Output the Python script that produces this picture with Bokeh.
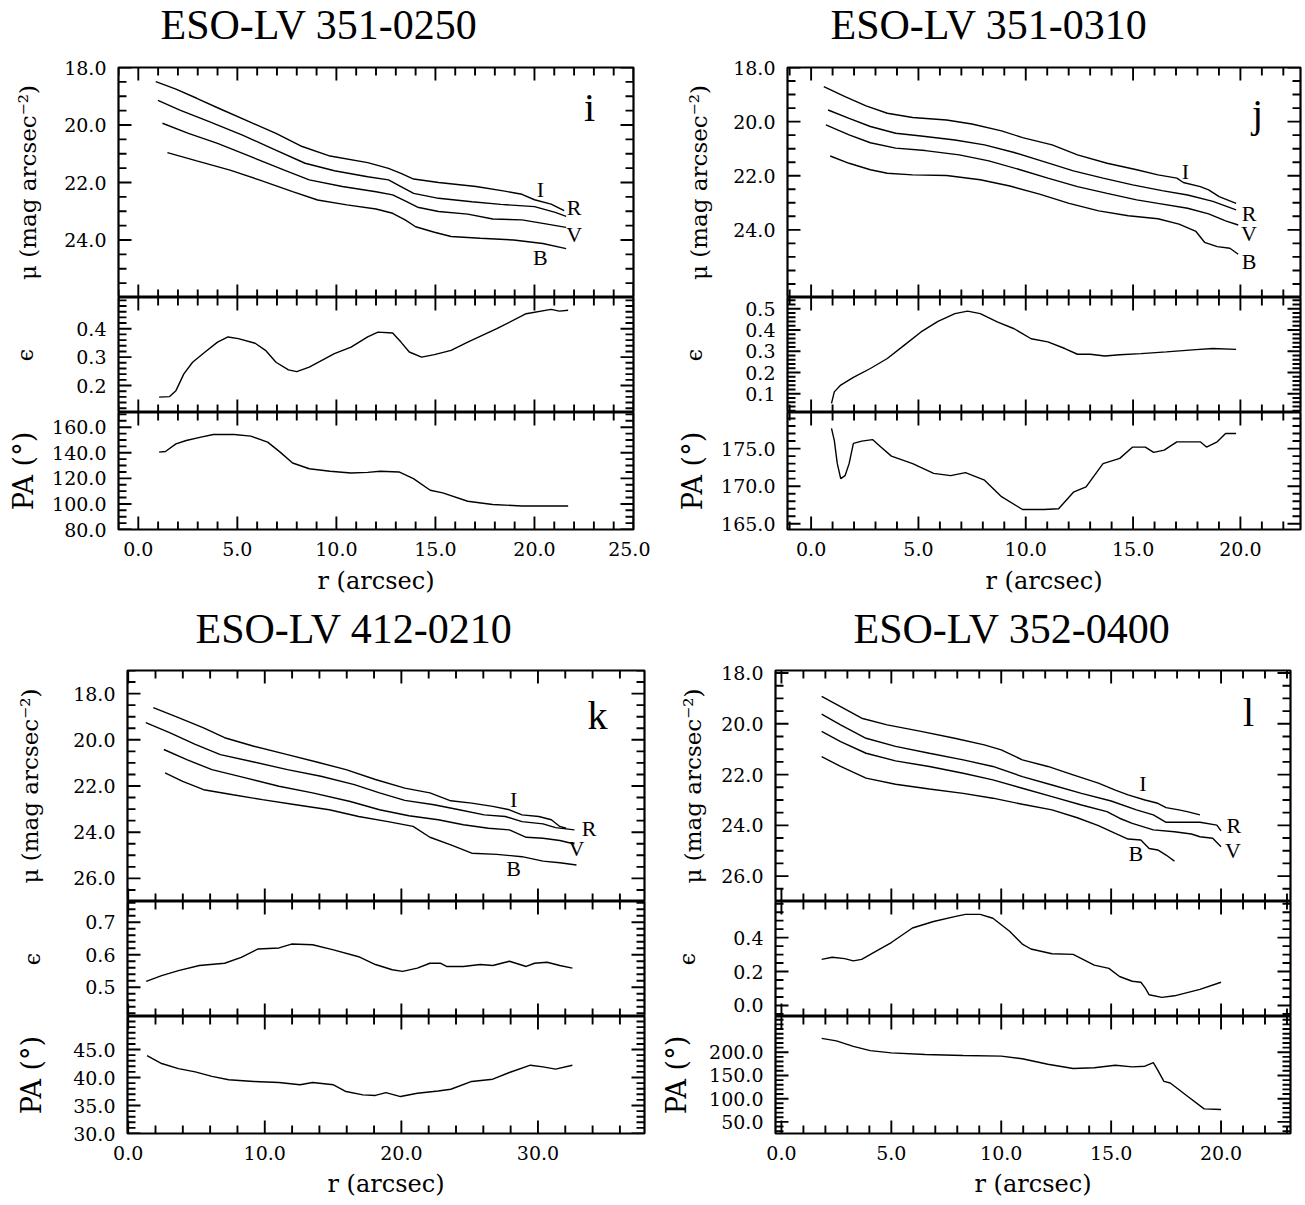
from bokeh.plotting import figure
from bokeh.models import Range1d, LinearAxis, FixedTicker, PrintfTickFormatter
from bokeh.layouts import column, row
from bokeh.embed import file_html
from bokeh.resources import INLINE
from bokeh.core.properties import value

# ---------------- DATA ----------------
BANDS = ["I", "R", "V", "B"]

# Panel i : ESO-LV 351-0250
i_I_r = [0.88, 1.9, 2.95, 4.0, 5.68, 6.95, 8.2, 9.68, 11.58, 12.63, 13.26, 13.9, 15.16, 17.05, 18.5, 19.37, 20.0, 20.84, 21.5]
i_I_mu = [18.49, 18.75, 19.07, 19.4, 19.91, 20.29, 20.73, 21.08, 21.31, 21.51, 21.68, 21.88, 22.0, 22.14, 22.3, 22.41, 22.6, 22.75, 22.98]
i_R_r = [0.99, 2.1, 3.58, 5.26, 6.74, 8.42, 9.9, 11.58, 12.63, 13.26, 13.9, 15.16, 16.84, 18.3, 20.0, 21.05, 21.6]
i_R_mu = [19.14, 19.48, 19.88, 20.35, 20.81, 21.33, 21.59, 21.8, 21.91, 22.14, 22.38, 22.55, 22.67, 22.76, 22.84, 23.04, 23.18]
i_V_r = [1.22, 2.53, 4.0, 5.68, 7.37, 8.63, 10.3, 12.0, 12.84, 13.47, 14.1, 15.16, 16.63, 17.9, 19.37, 20.42, 21.6]
i_V_mu = [19.94, 20.29, 20.64, 21.1, 21.57, 21.91, 22.14, 22.32, 22.43, 22.64, 22.86, 23.01, 23.1, 23.27, 23.3, 23.42, 23.56]
i_B_r = [1.47, 2.95, 4.63, 6.1, 7.79, 9.05, 10.53, 12.0, 12.84, 13.47, 14.0, 14.95, 15.79, 17.26, 18.95, 20.42, 21.6]
i_B_mu = [20.96, 21.25, 21.57, 21.91, 22.32, 22.61, 22.78, 22.92, 23.07, 23.3, 23.54, 23.73, 23.88, 23.94, 24.0, 24.12, 24.3]
i_eps_r = [1.05, 1.58, 1.9, 2.3, 2.74, 3.37, 4.0, 4.53, 5.05, 5.9, 6.42, 6.95, 7.58, 8.0, 8.63, 9.9, 10.74, 11.58, 12.1, 12.84, 13.26, 13.68, 14.3, 14.95, 15.79, 16.63, 18.1, 19.58, 20.84, 21.26, 21.7]
i_eps = [0.159, 0.161, 0.182, 0.241, 0.282, 0.318, 0.353, 0.371, 0.365, 0.349, 0.324, 0.282, 0.255, 0.249, 0.265, 0.312, 0.335, 0.371, 0.388, 0.385, 0.353, 0.318, 0.3, 0.309, 0.324, 0.353, 0.4, 0.453, 0.468, 0.462, 0.465]
i_pa_r = [1.05, 1.37, 1.9, 2.42, 3.16, 3.79, 4.84, 5.68, 6.53, 7.16, 7.79, 8.63, 9.68, 10.74, 11.58, 12.21, 13.16, 13.89, 14.74, 15.37, 16.63, 17.89, 19.37, 21.7]
i_pa = [140.5, 141.0, 147.0, 149.6, 152.2, 154.3, 154.3, 153.0, 148.3, 140.5, 132.0, 127.5, 125.5, 124.2, 124.7, 125.5, 125.0, 119.8, 110.7, 108.6, 102.1, 99.5, 98.4, 98.4]

# Panel j : ESO-LV 351-0310
j_I_r = [0.59, 1.58, 2.56, 3.55, 4.73, 6.31, 7.49, 8.87, 9.85, 11.23, 12.41, 13.79, 15.17, 16.16, 17.04, 17.34, 18.13, 18.52, 19.01, 19.8]
j_I_mu = [18.71, 19.08, 19.42, 19.69, 19.85, 19.94, 20.09, 20.34, 20.59, 20.86, 21.23, 21.54, 21.78, 21.97, 22.09, 22.25, 22.4, 22.52, 22.77, 23.02]
j_R_r = [0.79, 1.77, 2.76, 3.94, 5.12, 6.7, 8.08, 9.46, 10.84, 12.22, 13.6, 14.98, 16.35, 17.54, 18.72, 19.8]
j_R_mu = [19.57, 19.88, 20.18, 20.43, 20.53, 20.68, 20.86, 21.14, 21.48, 21.82, 22.09, 22.34, 22.55, 22.71, 22.95, 23.26]
j_V_r = [0.69, 1.77, 2.76, 3.94, 5.32, 6.9, 8.28, 9.66, 11.03, 12.41, 13.79, 15.17, 16.16, 17.54, 18.52, 19.31, 19.9]
j_V_mu = [20.12, 20.49, 20.78, 20.98, 21.07, 21.23, 21.45, 21.76, 22.09, 22.4, 22.65, 22.89, 23.02, 23.2, 23.41, 23.67, 23.82]
j_B_r = [0.89, 1.77, 2.76, 3.55, 4.73, 6.31, 7.88, 9.26, 10.64, 12.02, 13.4, 14.78, 16.16, 17.14, 17.93, 18.33, 18.92, 19.51, 19.9]
j_B_mu = [21.27, 21.54, 21.78, 21.91, 21.97, 21.99, 22.15, 22.38, 22.68, 23.02, 23.3, 23.48, 23.59, 23.79, 24.06, 24.46, 24.62, 24.68, 24.9]
j_eps_r = [0.95, 1.08, 1.38, 1.97, 2.76, 3.55, 4.33, 5.12, 5.91, 6.7, 7.29, 7.88, 8.67, 9.46, 10.25, 11.03, 11.82, 12.41, 13.0, 13.69, 14.38, 15.37, 16.55, 17.93, 18.72, 19.8]
j_eps = [0.055, 0.109, 0.141, 0.177, 0.219, 0.266, 0.328, 0.391, 0.441, 0.477, 0.489, 0.477, 0.438, 0.406, 0.359, 0.344, 0.313, 0.286, 0.286, 0.278, 0.284, 0.289, 0.297, 0.308, 0.313, 0.309]
j_pa_r = [0.95, 1.08, 1.22, 1.38, 1.58, 1.77, 1.97, 2.36, 2.86, 3.25, 3.74, 4.73, 5.71, 6.5, 7.19, 8.08, 8.87, 9.85, 10.84, 11.53, 12.22, 12.81, 13.6, 14.38, 14.98, 15.57, 15.96, 16.45, 17.04, 18.13, 18.42, 18.92, 19.31, 19.8]
j_pa = [177.7, 176.1, 173.0, 171.0, 171.4, 173.0, 175.7, 176.0, 176.2, 175.2, 174.0, 173.0, 171.7, 171.4, 171.8, 170.8, 168.6, 166.9, 166.9, 167.0, 169.2, 169.9, 173.0, 173.7, 175.2, 175.2, 174.5, 174.8, 175.9, 175.9, 175.2, 175.9, 177.0, 177.0]

# Panel k : ESO-LV 412-0210
k_I_r = [1.84, 3.68, 5.52, 7.06, 9.2, 11.66, 13.8, 15.95, 18.1, 20.25, 22.09, 23.62, 25.15, 26.69, 27.91, 28.83, 30.06, 30.98, 31.6, 32.06]
k_I_mu = [18.61, 19.04, 19.48, 19.91, 20.28, 20.64, 20.96, 21.29, 21.72, 22.09, 22.3, 22.64, 22.74, 22.88, 23.03, 23.25, 23.32, 23.46, 23.75, 23.83]
k_R_r = [1.29, 3.07, 4.91, 6.75, 9.2, 11.66, 14.11, 16.56, 18.4, 20.25, 22.39, 24.23, 26.07, 27.61, 28.83, 30.37, 31.29, 32.67]
k_R_mu = [19.26, 19.7, 20.2, 20.64, 20.96, 21.29, 21.58, 21.94, 22.3, 22.62, 22.81, 23.03, 23.25, 23.32, 23.54, 23.64, 23.8, 23.9]
k_V_r = [2.61, 4.29, 6.13, 8.59, 11.04, 13.5, 16.26, 18.4, 20.55, 22.7, 24.54, 26.38, 27.91, 29.14, 30.37, 31.6, 32.67]
k_V_mu = [20.42, 20.86, 21.29, 21.65, 22.01, 22.3, 22.67, 23.03, 23.29, 23.46, 23.68, 23.83, 23.9, 24.22, 24.26, 24.36, 24.51]
k_B_r = [2.7, 3.99, 5.52, 7.67, 9.82, 12.27, 14.72, 16.87, 19.02, 20.86, 22.09, 23.62, 25.15, 26.99, 28.83, 30.37, 31.6, 32.82]
k_B_mu = [21.43, 21.8, 22.16, 22.38, 22.59, 22.81, 23.03, 23.32, 23.54, 23.75, 24.22, 24.55, 24.91, 24.96, 25.06, 25.25, 25.32, 25.42]
k_eps_r = [1.32, 2.45, 3.68, 5.21, 7.06, 8.28, 9.51, 11.04, 11.96, 13.5, 15.03, 16.87, 18.1, 19.33, 20.09, 21.17, 22.09, 22.85, 23.31, 24.54, 25.77, 26.69, 27.91, 29.14, 29.75, 30.67, 31.6, 32.52]
k_eps = [0.518, 0.536, 0.551, 0.567, 0.574, 0.592, 0.618, 0.621, 0.633, 0.631, 0.615, 0.594, 0.57, 0.554, 0.549, 0.559, 0.574, 0.574, 0.564, 0.564, 0.57, 0.567, 0.58, 0.564, 0.574, 0.577, 0.567, 0.559]
k_pa_r = [1.38, 2.45, 3.68, 4.91, 6.13, 7.36, 9.2, 11.04, 12.58, 13.5, 15.03, 15.95, 17.18, 18.1, 18.87, 19.94, 21.17, 22.7, 23.62, 25.15, 26.69, 27.91, 29.45, 30.37, 31.29, 32.52]
k_pa = [43.9, 42.5, 41.6, 41.0, 40.2, 39.6, 39.3, 39.1, 38.7, 39.1, 38.7, 37.5, 36.9, 36.8, 37.3, 36.6, 37.2, 37.6, 37.9, 39.3, 39.7, 40.9, 42.2, 41.9, 41.5, 42.2]

# Panel l : ESO-LV 352-0400
l_I_r = [1.83, 2.69, 3.65, 4.81, 6.35, 7.88, 9.23, 10.0, 10.96, 12.12, 13.27, 14.42, 15.19, 15.77, 16.54, 17.12, 17.5, 18.08, 18.46, 19.04]
l_I_mu = [18.92, 19.32, 19.78, 20.04, 20.3, 20.57, 20.83, 21.03, 21.42, 21.68, 22.01, 22.34, 22.61, 22.8, 23.0, 23.13, 23.3, 23.39, 23.46, 23.59]
l_R_r = [1.83, 2.69, 3.85, 5.19, 6.73, 8.27, 9.62, 10.96, 12.31, 13.65, 15.0, 16.15, 16.92, 17.5, 18.46, 19.04, 19.81, 20.0]
l_R_mu = [19.62, 20.04, 20.57, 20.89, 21.16, 21.42, 21.68, 22.08, 22.41, 22.74, 23.04, 23.39, 23.59, 23.88, 23.88, 23.88, 23.99, 24.22]
l_V_r = [1.83, 2.69, 3.85, 5.19, 6.73, 8.27, 9.62, 10.96, 12.31, 13.65, 14.81, 15.38, 15.96, 16.92, 17.88, 18.65, 19.04, 19.62, 20.0]
l_V_mu = [20.3, 20.7, 21.16, 21.46, 21.68, 21.95, 22.21, 22.54, 22.87, 23.2, 23.46, 23.72, 23.92, 24.18, 24.25, 24.34, 24.45, 24.51, 24.84]
l_B_r = [1.83, 2.69, 3.85, 5.19, 6.73, 8.27, 9.62, 10.96, 12.31, 13.46, 14.42, 15.19, 15.77, 16.35, 16.73, 17.12, 17.5, 17.88]
l_B_mu = [21.29, 21.68, 22.14, 22.38, 22.57, 22.74, 22.93, 23.17, 23.39, 23.7, 24.01, 24.32, 24.54, 24.58, 24.91, 24.97, 25.17, 25.41]
l_eps_r = [1.83, 2.31, 2.88, 3.27, 3.65, 4.23, 5.0, 5.96, 6.92, 7.88, 8.37, 9.04, 9.62, 10.38, 10.96, 11.35, 12.31, 13.27, 13.65, 14.23, 14.9, 15.38, 15.96, 16.35, 16.54, 16.73, 17.31, 17.88, 19.04, 20.0]
l_eps = [0.272, 0.284, 0.276, 0.263, 0.272, 0.314, 0.371, 0.457, 0.495, 0.524, 0.537, 0.537, 0.514, 0.438, 0.362, 0.333, 0.305, 0.301, 0.276, 0.238, 0.219, 0.171, 0.143, 0.137, 0.105, 0.063, 0.048, 0.057, 0.095, 0.137]
l_pa_r = [1.83, 2.5, 3.27, 4.04, 5.0, 6.54, 8.27, 10.0, 10.96, 12.12, 13.27, 14.23, 15.19, 15.96, 16.54, 16.92, 17.12, 17.4, 17.69, 18.46, 19.23, 20.0]
l_pa = [230.0, 224.4, 212.6, 203.5, 198.6, 195.1, 193.0, 191.6, 186.1, 174.2, 165.1, 166.5, 172.1, 168.6, 170.0, 177.7, 161.6, 137.2, 133.8, 105.9, 78.0, 76.6]

# ---------------- STYLE / LAYOUT ----------------
SERIF = "DejaVu Serif"
TSERIF = "Liberation Serif"
TICK_FS = "19px"
MAJ_LEN = 13   # px, inward tick length
MIN_LEN = 8
TICK_W = 1.9
NAN = float("nan")


def frange(a, b, step):
    n = int(round((b - a) / step))
    return [round(a + k * step, 6) for k in range(n + 1)]


panels = {
    "i": dict(
        title="ESO-LV 351-0250", title_x=42,
        bands={"I": (i_I_r, i_I_mu), "R": (i_R_r, i_R_mu), "V": (i_V_r, i_V_mu), "B": (i_B_r, i_B_mu)},
        eps=(i_eps_r, i_eps), pa=(i_pa_r, i_pa),
        xr=(-1.0, 25.0), xmaj=[0, 5, 10, 15, 20, 25], xmin=frange(-1, 25, 1),
        mur=(26.0, 18.0), mumaj=[18, 20, 22, 24], mumin=frange(18, 26, 0.5),
        er=(0.105, 0.51), emaj=[0.2, 0.3, 0.4], emin=frange(0.12, 0.5, 0.02),
        pr=(80.0, 171.5), pmaj=[80, 100, 120, 140, 160], pmin=frange(80, 170, 5),
        letter="i", letter_pos=(22.78, 19.39),
        band_pos={"I": (20.3, 22.25), "R": (22.0, 22.87), "V": (22.0, 23.82), "B": (20.3, 24.62)},
        left=118, fw=515, right=17, so=(20, 35, 10),
    ),
    "j": dict(
        title="ESO-LV 351-0310", title_x=43,
        bands={"I": (j_I_r, j_I_mu), "R": (j_R_r, j_R_mu), "V": (j_V_r, j_V_mu), "B": (j_B_r, j_B_mu)},
        eps=(j_eps_r, j_eps), pa=(j_pa_r, j_pa),
        xr=(-1.1, 22.8), xmaj=[0, 5, 10, 15, 20], xmin=frange(-1, 22, 1),
        mur=(26.5, 18.0), mumaj=[18, 20, 22, 24], mumin=frange(18, 26.5, 0.5),
        er=(0.012, 0.553), emaj=[0.1, 0.2, 0.3, 0.4, 0.5], emin=frange(0.02, 0.54, 0.02),
        pr=(164.24, 179.8), pmaj=[165, 170, 175], pmin=frange(165, 179, 1),
        letter="j", letter_pos=(20.8, 19.7),
        band_pos={"I": (17.44, 21.85), "R": (20.4, 23.38), "V": (20.4, 24.12), "B": (20.4, 25.17)},
        left=137, fw=513, right=3, so=(18, 35, 10),
    ),
    "k": dict(
        title="ESO-LV 412-0210", title_x=68,
        bands={"I": (k_I_r, k_I_mu), "R": (k_R_r, k_R_mu), "V": (k_V_r, k_V_mu), "B": (k_B_r, k_B_mu)},
        eps=(k_eps_r, k_eps), pa=(k_pa_r, k_pa),
        xr=(-0.05, 37.8), xmaj=[0, 10, 20, 30], xmin=frange(0, 36, 2),
        mur=(27.0, 17.0), mumaj=[18, 20, 22, 24, 26], mumin=frange(17, 27, 0.5),
        er=(0.41, 0.764), emaj=[0.5, 0.6, 0.7], emin=frange(0.42, 0.76, 0.02),
        pr=(30.0, 50.9), pmaj=[30, 35, 40, 45], pmin=frange(30, 50, 1),
        letter="k", letter_pos=(34.36, 18.93),
        band_pos={"I": (28.22, 22.59), "R": (33.74, 23.83), "V": (32.82, 24.7), "B": (28.22, 25.57)},
        left=127, fw=517, right=6, so=(27, 37, 23),
    ),
    "l": dict(
        title="ESO-LV 352-0400", title_x=78,
        bands={"I": (l_I_r, l_I_mu), "R": (l_R_r, l_R_mu), "V": (l_V_r, l_V_mu), "B": (l_B_r, l_B_mu)},
        eps=(l_eps_r, l_eps), pa=(l_pa_r, l_pa),
        xr=(-0.27, 23.16), xmaj=[0, 5, 10, 15, 20], xmin=frange(0, 23, 1),
        mur=(27.0, 17.9), mumaj=[18, 20, 22, 24, 26], mumin=frange(18, 27, 0.5),
        er=(-0.065, 0.613), emaj=[0.0, 0.2, 0.4], emin=frange(-0.05, 0.6, 0.05),
        pr=(25.0, 277.0), pmaj=[50, 100, 150, 200], pmin=frange(30, 270, 10),
        letter="l", letter_pos=(21.25, 19.55),
        band_pos={"I": (16.44, 22.34), "R": (20.58, 24.01), "V": (20.54, 25.01), "B": (16.12, 25.1)},
        left=125, fw=515, right=13, so=(12, 30, 14),
    ),
}

ROWS = {
    # title strip height, title text centre (from strip top), mu top border, frame heights, pa bottom border
    "top": dict(th=55, tc=24, mtop=12, mh=230, eh=115, ph=117, pbot=72, lso=12, aso=8),
    "bottom": dict(th=57, tc=27, mtop=12, mh=231, eh=115, ph=117, pbot=70, lso=12, aso=7),
}


def label_axis(ax, fs):
    ax.axis_line_color = None
    ax.major_tick_in = 0
    ax.major_tick_out = 0
    ax.minor_tick_in = 0
    ax.minor_tick_out = 0
    ax.major_tick_line_color = None
    ax.minor_tick_line_color = None
    ax.major_label_text_font = SERIF
    ax.major_label_text_font_size = TICK_FS
    ax.major_label_text_color = "black"
    ax.axis_label_text_font = SERIF
    ax.axis_label_text_font_size = fs
    ax.axis_label_text_font_style = "normal"
    ax.axis_label_text_color = "black"


def only_minor(minor, major):
    return [v for v in minor if all(abs(v - m) > 1e-9 for m in major)]


def edge_ticks(p, xr, yr, fw, fh, xmaj, xmin, ymaj, ymin):
    """Inward tick marks on all four frame edges: one broken polyline (NaN gaps)."""
    x0, x1 = xr
    y0, y1 = yr
    dxp = (x1 - x0) / fw
    dyp = (y1 - y0) / fh
    xs, ys = [], []
    for vals, L in ((xmaj, MAJ_LEN), (only_minor(xmin, xmaj), MIN_LEN)):
        for v in vals:
            xs += [v, v, NAN, v, v, NAN]
            ys += [y0, y0 + L * dyp, NAN, y1, y1 - L * dyp, NAN]
    for vals, L in ((ymaj, MAJ_LEN), (only_minor(ymin, ymaj), MIN_LEN)):
        for v in vals:
            xs += [x0, x0 + L * dxp, NAN, x1, x1 - L * dxp, NAN]
            ys += [v, v, NAN, v, v, NAN]
    p.line(xs, ys, line_color="black", line_width=TICK_W)


def make_fig(xr, yr, fw, fh, left, right, top, bottom):
    p = figure(x_range=xr, y_range=yr, frame_width=fw, frame_height=fh,
               min_border=0, min_border_left=left, min_border_right=right,
               min_border_top=top, min_border_bottom=bottom,
               x_axis_location=None, y_axis_location=None,
               toolbar_location=None, output_backend="svg", tools="")
    p.title = None
    p.grid.visible = False
    p.background_fill_color = "white"
    p.border_fill_color = "white"
    p.outline_line_color = "black"
    p.outline_line_width = 2.2
    return p


def title_strip(cfg, rc):
    h = rc["th"]
    p = figure(x_range=Range1d(0, cfg["fw"]), y_range=Range1d(h, 0),
               frame_width=cfg["fw"], frame_height=h,
               min_border=0, min_border_left=cfg["left"], min_border_right=cfg["right"],
               min_border_top=0, min_border_bottom=0,
               x_axis_location=None, y_axis_location=None,
               toolbar_location=None, output_backend="svg", tools="")
    p.title = None
    p.grid.visible = False
    p.outline_line_color = None
    p.background_fill_color = "white"
    p.border_fill_color = "white"
    p.text(x=[cfg["title_x"]], y=[rc["tc"]], text=[cfg["title"]], text_font=value(TSERIF),
           text_font_size="42px", text_align="left", text_baseline="middle", text_color="black")
    return p


def build_panel(cfg, rc):
    xr = Range1d(*cfg["xr"])
    figs = [title_strip(cfg, rc)]
    specs = [
        ("mu", cfg["mur"], cfg["mumaj"], cfg["mumin"], "μ (mag arcsec⁻²)", "23px", cfg["so"][0], rc["mh"], rc["mtop"], 0),
        ("eps", cfg["er"], cfg["emaj"], cfg["emin"], "ϵ", "22px", cfg["so"][1], rc["eh"], 0, 0),
        ("pa", cfg["pr"], cfg["pmaj"], cfg["pmin"], "PA (°)", "27px", cfg["so"][2], rc["ph"], 0, rc["pbot"]),
    ]
    for name, yrv, ymaj, ymin, ylab, yfs, yso, fh, top, bot in specs:
        p = make_fig(xr, Range1d(*yrv), cfg["fw"], fh, cfg["left"], cfg["right"], top, bot)
        ax = LinearAxis(ticker=FixedTicker(ticks=ymaj, minor_ticks=ymin),
                        formatter=PrintfTickFormatter(format="%.1f"), axis_label=ylab)
        label_axis(ax, yfs)
        ax.major_label_standoff = 12
        ax.axis_label_standoff = yso
        p.add_layout(ax, "left")
        if name == "pa":
            axb = LinearAxis(ticker=FixedTicker(ticks=cfg["xmaj"], minor_ticks=cfg["xmin"]),
                             formatter=PrintfTickFormatter(format="%.1f"), axis_label="r (arcsec)")
            label_axis(axb, "24px")
            axb.major_label_standoff = rc["lso"]
            axb.axis_label_standoff = rc["aso"]
            p.add_layout(axb, "below")

        edge_ticks(p, cfg["xr"], yrv, cfg["fw"], fh, cfg["xmaj"], cfg["xmin"], ymaj, ymin)

        if name == "mu":
            for b in BANDS:
                r, m = cfg["bands"][b]
                p.line(r, m, line_color="black", line_width=1.4)
            p.text(x=[cfg["band_pos"][b][0] for b in BANDS], y=[cfg["band_pos"][b][1] for b in BANDS],
                   text=BANDS, text_font=value(TSERIF), text_font_size="22px",
                   text_align="center", text_baseline="middle", text_color="black")
            p.text(x=[cfg["letter_pos"][0]], y=[cfg["letter_pos"][1]], text=[cfg["letter"]],
                   text_font=value(TSERIF), text_font_size="40px", text_align="center",
                   text_baseline="middle", text_color="black")
        elif name == "eps":
            p.line(cfg["eps"][0], cfg["eps"][1], line_color="black", line_width=1.4)
        else:
            p.line(cfg["pa"][0], cfg["pa"][1], line_color="black", line_width=1.4)
        figs.append(p)
    return column(*figs, spacing=0)


top_row = row(build_panel(panels["i"], ROWS["top"]), build_panel(panels["j"], ROWS["top"]), spacing=0)
bottom_row = row(build_panel(panels["k"], ROWS["bottom"]), build_panel(panels["l"], ROWS["bottom"]), spacing=0)
layout = column(top_row, bottom_row, spacing=0)

open("out.html", "w").write(file_html(layout, INLINE))
